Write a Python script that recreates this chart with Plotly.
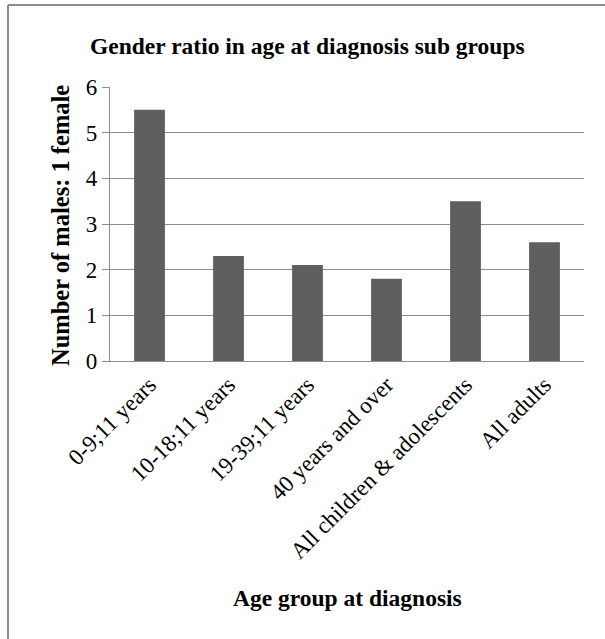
import plotly.graph_objects as go

categories = ["0-9;11 years", "10-18;11 years", "19-39;11 years", "40 years and over",
              "All children & adolescents", "All adults"]
values = [5.5, 2.3, 2.1, 1.8, 3.5, 2.6]
y_ticks = [0, 1, 2, 3, 4, 5, 6]

W, H = 605, 639
L, R, T, B = 110, 21, 87, 278
pw, ph = W - L - R, H - T - B

def px(x):
    return (x - L) / pw

def py(y):
    return (H - B - y) / ph

font = "Liberation Serif, Times New Roman, serif"
grid = "#8c8c8c"

fig = go.Figure(go.Bar(x=categories, y=values, marker_color="#5f5f5f",
                       marker_line_width=0))

fig.update_layout(
    width=W, height=H,
    margin=dict(l=L, r=R, t=T, b=B),
    paper_bgcolor="white", plot_bgcolor="white",
    bargap=0.61,
    showlegend=False,
    font=dict(family=font, size=23, color="black"),
    xaxis=dict(tickangle=-45, showline=True, linecolor=grid, linewidth=1.2,
               ticks="", showgrid=False, tickfont=dict(size=23)),
    yaxis=dict(range=[0, 6], tickvals=y_ticks, showline=True, linecolor=grid,
               linewidth=1.2, ticks="outside", ticklen=7, tickcolor=grid,
               showgrid=True, gridcolor=grid, gridwidth=1.2, zeroline=False,
               tickfont=dict(size=23)),
    annotations=[
        dict(text="<b>Gender ratio in age at diagnosis sub groups</b>", xref="paper", yref="paper",
             x=px(307), y=py(46), showarrow=False, xanchor="center", yanchor="middle",
             font=dict(size=23.5)),
        dict(text="<b>Number of males: 1 female</b>", xref="paper", yref="paper",
             x=px(60), y=py(226), showarrow=False, textangle=-90, xanchor="center",
             yanchor="middle", font=dict(size=24.5)),
        dict(text="<b>Age group at diagnosis</b>", xref="paper", yref="paper",
             x=px(347), y=py(598), showarrow=False, xanchor="center", yanchor="middle",
             font=dict(size=23.5)),
    ],
    shapes=[
        dict(type="line", xref="paper", yref="paper", x0=px(8), x1=px(8), y0=py(5), y1=py(660),
             line=dict(color=grid, width=2)),
        dict(type="line", xref="paper", yref="paper", x0=px(8), x1=px(620), y0=py(5), y1=py(5),
             line=dict(color=grid, width=2)),
    ],
)

fig.write_html("out.html", config={"displayModeBar": False},
               post_script="document.body.style.margin='0';")
